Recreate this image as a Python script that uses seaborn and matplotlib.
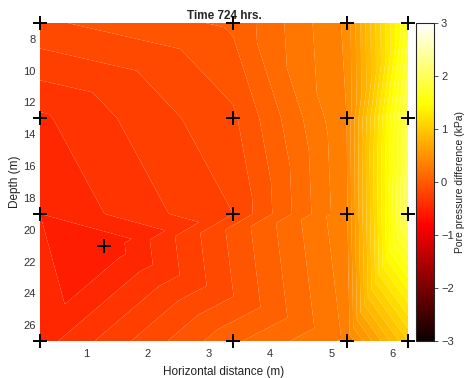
import numpy as np
import pandas as pd
import matplotlib
matplotlib.use("Agg")
import matplotlib.pyplot as plt
import matplotlib.tri as mtri
import seaborn as sns

# Sensor positions (horizontal distance, depth) and measured pore pressure difference
sensor_x = [0.25, 3.4, 5.25, 6.25,
            0.25, 3.4, 5.25, 6.25,
            0.25, 3.4, 5.25, 6.25,
            0.25, 3.4, 5.25, 6.25,
            1.3]
sensor_depth = [7, 7, 7, 7,
                13, 13, 13, 13,
                19, 19, 19, 19,
                27, 27, 27, 27,
                21]
pressure_kpa = [-0.12, 0.02, 0.42, 1.65,
                -0.42, -0.12, 0.4, 1.95,
                -0.5, -0.2, 0.38, 2.0,
                -0.45, 0.08, 0.32, 1.0,
                -0.58]

x_ticks = [1, 2, 3, 4, 5, 6]
y_ticks = [8, 10, 12, 14, 16, 18, 20, 22, 24, 26]
cbar_ticks = [-3, -2, -1, 0, 1, 2, 3]
contour_levels = np.arange(-3.0, 3.0001, 0.1)

sns.set_style("white")
plt.rcParams["font.family"] = ["Liberation Sans", "DejaVu Sans"]

df = pd.DataFrame({"x": sensor_x, "depth": sensor_depth, "p": pressure_kpa})

fig = plt.figure(figsize=(4.65, 3.78), dpi=100)
ax = fig.add_axes([40 / 465, 37 / 378, 368 / 465, 318 / 378])
cax = fig.add_axes([416 / 465, 37 / 378, 18 / 465, 318 / 378])

tri = mtri.Triangulation(df["x"], df["depth"])
ax.tricontourf(tri, df["p"], levels=contour_levels, cmap="hot",
               vmin=-3, vmax=3, antialiased=True)

sns.scatterplot(data=df, x="x", y="depth", marker="+", s=110, color="black",
                linewidth=1.4, ax=ax, clip_on=False, zorder=10, legend=False)

ax.set_xlim(0.25, 6.25)
ax.set_ylim(27, 7)
ax.set_xticks(x_ticks)
ax.set_yticks(y_ticks)
ax.tick_params(axis="x", length=0, labelsize=8, colors="#333333", pad=6)
ax.tick_params(axis="y", length=0, labelsize=8, colors="#333333", pad=3)
for s in ax.spines.values():
    s.set_visible(False)
ax.set_xlabel("Horizontal distance (m)", fontsize=8.5, color="#222222", labelpad=5)
ax.set_ylabel("Depth (m)", fontsize=8.5, color="#222222", labelpad=2)
ax.set_title("Time 724 hrs.", fontsize=8.5, fontweight="bold", pad=3)

sm = plt.cm.ScalarMappable(cmap="hot", norm=plt.Normalize(-3, 3))
cb = fig.colorbar(sm, cax=cax, ticks=cbar_ticks)
cb.outline.set_linewidth(0.8)
cb.ax.tick_params(labelsize=8, colors="#333333", length=3, width=0.6, pad=2)
cb.set_label("Pore pressure difference (kPa)", fontsize=7.5, color="#222222", labelpad=1)

fig.savefig("out.png", dpi=100)
